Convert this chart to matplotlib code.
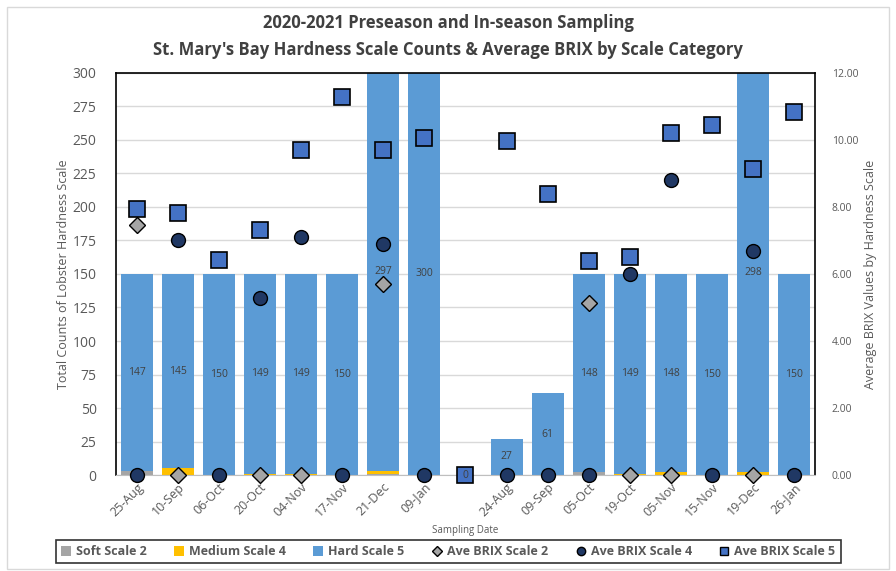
import matplotlib
matplotlib.use("Agg")
import matplotlib.pyplot as plt
import numpy as np
from matplotlib.lines import Line2D
from matplotlib.patches import Patch, Rectangle

plt.rcParams['font.family'] = ['Open Sans', 'DejaVu Sans']

dates = ["25-Aug", "10-Sep", "06-Oct", "20-Oct", "04-Nov", "17-Nov", "21-Dec", "09-Jan", "",
         "24-Aug", "09-Sep", "05-Oct", "19-Oct", "05-Nov", "15-Nov", "19-Dec", "26-Jan"]
soft2 = [3, 0, 0, 0, 0, 0, 1, 0, 0, 0, 0, 2, 0, 0, 0, 0, 0]
medium4 = [0, 5, 0, 1, 1, 0, 2, 0, 0, 0, 0, 0, 1, 2, 0, 2, 0]
hard5 = [147, 145, 150, 149, 149, 150, 297, 300, 0, 27, 61, 148, 149, 148, 150, 298, 150]

brix2 = [7.46, 0, None, 0, 0, None, 5.69, None, None, None, None, 5.14, 0, 0, None, 0, None]
brix4 = [0, 7.00, 0, 5.29, 7.10, 0, 6.90, 0, None, 0, 0, 0, 6.01, 8.81, 0, 6.70, 0]
brix5 = [7.95, 7.82, 6.42, 7.31, 9.70, 11.29, 9.70, 10.06, 0, 9.96, 8.39, 6.39, 6.52, 10.20, 10.44, 9.14, 10.85]

c_soft = "#A5A5A5"
c_med = "#FFC000"
c_hard = "#5B9BD5"
c_sq = "#4472C4"
c_circ = "#203864"
txt = "#595959"

fig = plt.figure(figsize=(8.96, 5.71), dpi=100)
fig.patches.append(Rectangle((0.008, 0.003), 0.984, 0.985, transform=fig.transFigure,
                             fill=False, edgecolor="#D9D9D9", linewidth=1))
ax = fig.add_axes([0.1295, 0.1681, 0.78, 0.7041])
x = np.arange(len(dates))
w = 0.78
soft_a = np.array(soft2)
med_a = np.array(medium4)
hard_a = np.array(hard5)
ax.bar(x, soft_a, w, color=c_soft, zorder=2)
ax.bar(x, med_a, w, bottom=soft_a, color=c_med, zorder=2)
ax.bar(x, hard_a, w, bottom=soft_a + med_a, color=c_hard, zorder=2)

ax.set_ylim(0, 300)
ax.set_xlim(-0.5, len(dates) - 0.5)
ax.set_yticks(np.arange(0, 301, 25))
ax.yaxis.grid(True, color="#D9D9D9", linewidth=1, zorder=0)
ax.set_axisbelow(True)
ax.set_xticks(x)
ax.set_xticklabels(dates, rotation=45, ha="right", rotation_mode="anchor", fontsize=9, color=txt)
ax.tick_params(axis="y", labelsize=10, colors=txt, length=0, pad=14)
ax.tick_params(axis="x", length=0, pad=4)
for s in ["left", "right", "top"]:
    ax.spines[s].set_color("black")
    ax.spines[s].set_linewidth(1.2)
ax.spines["bottom"].set_color("#BFBFBF")
ax.set_ylabel("Total Counts of Lobster Hardness Scale", fontsize=9, color=txt, labelpad=2)
ax.set_xlabel("Sampling Date", fontsize=7, color=txt, labelpad=4)

ax2 = ax.twinx()
ax2.set_ylim(0, 12)
ax2.set_yticks(np.arange(0, 12.1, 2))
ax2.set_yticklabels([f"{v:.2f}" for v in np.arange(0, 12.1, 2)])
ax2.tick_params(axis="y", labelsize=7.5, colors=txt, length=0, pad=12)
for s in ax2.spines.values():
    s.set_visible(False)
ax2.set_ylabel("Average BRIX Values by Hardness Scale", fontsize=9, color=txt, labelpad=4)

def pts(vals):
    xs = [i for i, v in enumerate(vals) if v is not None]
    ys = [v for v in vals if v is not None]
    return xs, ys

xs, ys = pts(brix2)
ax2.plot(xs, ys, linestyle="none", marker="D", markersize=8, markerfacecolor=c_soft,
         markeredgecolor="black", markeredgewidth=1, clip_on=False, zorder=3)
xs, ys = pts(brix4)
ax2.plot(xs, ys, linestyle="none", marker="o", markersize=10, markerfacecolor=c_circ,
         markeredgecolor="black", markeredgewidth=1, clip_on=False, zorder=4)
xs, ys = pts(brix5)
ax2.plot(xs, ys, linestyle="none", marker="s", markersize=11, markerfacecolor=c_sq,
         markeredgecolor="black", markeredgewidth=1.2, clip_on=False, zorder=5)

for i, v in enumerate(hard5):
    base = soft_a[i] + med_a[i]
    yc = min(base + v / 2.0, 300)
    ax2.text(x[i], yc, str(v), transform=ax.transData, ha="center", va="center",
             fontsize=7.5, color="#404040", zorder=6)

fig.suptitle("2020-2021 Preseason and In-season Sampling\nSt. Mary's Bay Hardness Scale Counts & Average BRIX by Scale Category",
             fontsize=12, fontweight="bold", color="#404040", y=0.975, linespacing=1.6)

handles = [
    Patch(facecolor=c_soft, label="Soft Scale 2"),
    Patch(facecolor=c_med, label="Medium Scale 4"),
    Patch(facecolor=c_hard, label="Hard Scale 5"),
    Line2D([], [], linestyle="none", marker="D", markersize=5, markerfacecolor=c_soft,
           markeredgecolor="black", label="Ave BRIX Scale 2"),
    Line2D([], [], linestyle="none", marker="o", markersize=6, markerfacecolor=c_circ,
           markeredgecolor="black", label="Ave BRIX Scale 4"),
    Line2D([], [], linestyle="none", marker="s", markersize=6, markerfacecolor=c_sq,
           markeredgecolor="black", label="Ave BRIX Scale 5"),
]
leg = fig.legend(handles=handles, loc="center", bbox_to_anchor=(0.5, 0.0333), ncol=6,
                 frameon=True, handlelength=0.8, handleheight=0.8,
                 handletextpad=0.4, columnspacing=2.2, borderpad=0.4, fancybox=False,
                 prop={"weight": "bold", "size": 9})
leg.get_frame().set_edgecolor("black")
leg.get_frame().set_linewidth(1.2)
for t in leg.get_texts():
    t.set_color(txt)

fig.savefig("out.png", dpi=100)
